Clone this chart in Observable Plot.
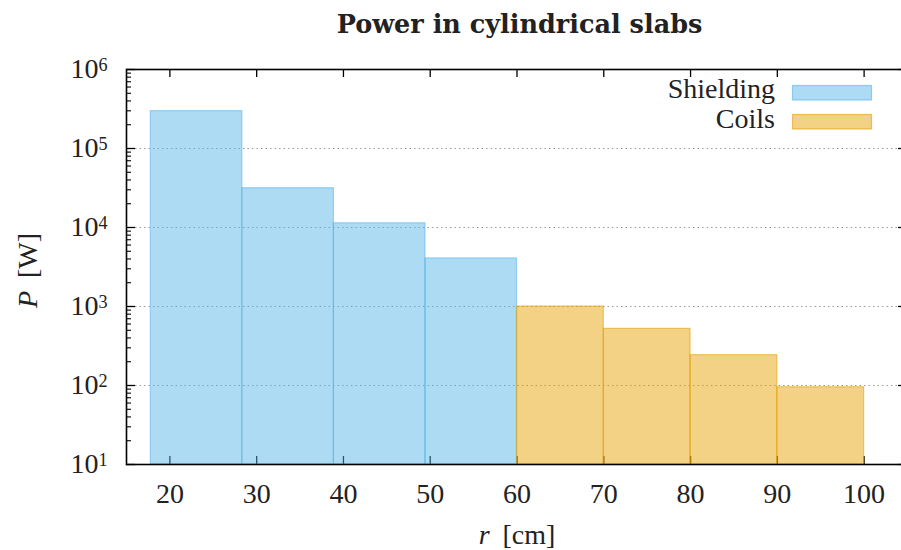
<!DOCTYPE html>
<html><head><meta charset="utf-8">
<script src="https://cdn.jsdelivr.net/npm/d3@7"></script>
<script src="https://cdn.jsdelivr.net/npm/@observablehq/plot@0.6"></script>
<style>
html,body{margin:0;padding:0;background:#fff;width:901px;height:550px;overflow:hidden;}
#wrap{position:relative;width:901px;height:550px;overflow:hidden;}
#wrap svg{display:block;max-width:none !important;}
</style></head><body><div id="wrap"></div>
<script>
const seriesNames = ["Shielding", "Coils"];
const seriesColors = ["#56b4e9", "#e69f00"];
const shieldingEdges = [17.8, 28.35, 38.9, 49.45, 60];
const shieldingPower = [2.97e5, 3.14e4, 1.13e4, 4.06e3];
const coilsEdges = [60, 70, 80, 90, 100];
const coilsPower = [1000, 521, 242, 95];
const xTicks = [20, 30, 40, 50, 60, 70, 80, 90, 100];
const yTicks = [1e1, 1e2, 1e3, 1e4, 1e5, 1e6];
const title = "Power in cylindrical slabs";
const xLabel = "r [cm]";
const yLabel = "P [W]";

const rows = [];
[[shieldingEdges, shieldingPower], [coilsEdges, coilsPower]].forEach(([e, p], s) =>
  p.forEach((v, i) => rows.push({series: seriesNames[s], x1: e[i], x2: e[i + 1], p: v})));
const minorTicks = [];
for (let k = 1; k < 6; k++) for (let m = 2; m <= 9; m++) minorTicks.push(m * 10 ** k);

const W = 910, H = 550, mL = 126, mR = 3, mT = 69, mB = 86;
const fw = W - mL - mR, fh = H - mT - mB;
const font = "'Liberation Serif', serif";
const ink = "#222";

const chart = Plot.plot({
  width: W, height: H, marginLeft: mL, marginRight: mR, marginTop: mT, marginBottom: mB,
  style: {fontFamily: font, fontSize: "28px", background: "white", color: ink, maxWidth: "none"},
  x: {domain: [15, 105], ticks: xTicks, tickSize: 0, tickPadding: 19, tickFormat: d => String(d), label: null},
  y: {type: "log", domain: [10, 1e6], ticks: yTicks, tickSize: 0, tickPadding: 19,
      tickFormat: d => "10^" + Math.round(Math.log10(d)), label: null},
  color: {domain: seriesNames, range: seriesColors},
  marks: [
    Plot.ruleY(yTicks.slice(1, -1), {stroke: "#9a9a9a", strokeDasharray: "1.5,3", strokeWidth: 1}),
    Plot.ruleX(xTicks, {insetTop: fh - 8, stroke: "#000", strokeWidth: 1.3}),
    Plot.rectY(rows, {x1: "x1", x2: "x2", y1: 10, y2: "p", fill: "series", fillOpacity: 0.48,
                      stroke: "series", strokeOpacity: 0.55, strokeWidth: 1.2}),
    Plot.ruleX(xTicks, {insetBottom: fh - 8, stroke: "#000", strokeWidth: 1.3}),
    Plot.ruleY(yTicks, {insetRight: fw - 9, stroke: "#000", strokeWidth: 1.3}),
    Plot.ruleY(minorTicks, {insetRight: fw - 5, stroke: "#000", strokeWidth: 1.1}),
    Plot.ruleY(yTicks, {insetLeft: fw - 9, stroke: "#000", strokeWidth: 1.3}),
    Plot.ruleY(minorTicks, {insetLeft: fw - 5, stroke: "#000", strokeWidth: 1.1}),
    Plot.frame({stroke: "#000", strokeWidth: 1.6}),
    Plot.text([title], {frameAnchor: "top", textAnchor: "middle", lineAnchor: "bottom", dy: -37, dx: 2.5,
                        fontWeight: "bold", fontSize: 25.5, fontFamily: "'DejaVu Serif', serif", fill: ink}),
    Plot.text([yLabel], {frameAnchor: "left", rotate: -90, textAnchor: "middle", lineAnchor: "bottom",
                         dx: -90, dy: 3.5, fontSize: 28, fill: ink}),
    Plot.text([xLabel], {frameAnchor: "bottom", textAnchor: "middle", lineAnchor: "bottom", dy: 79,
                         fontSize: 28, fill: ink})
  ]
});

const svg = d3.select(chart);
svg.selectAll("text").each(function () {
  const t = this.textContent;
  const s = d3.select(this);
  const m = /^10\^(\d+)$/.exec(t);
  if (m) {
    s.text("10");
    s.append("tspan").attr("dy", "-0.42em").attr("font-size", "0.65em").text(m[1]);
  } else if (t === yLabel || t === xLabel) {
    const first = t[0], rest = t.slice(1);
    s.text(null);
    s.append("tspan").attr("font-style", "italic").text(first);
    s.append("tspan").attr("dx", 6).text(rest);
  }
});

document.getElementById("wrap").appendChild(chart);

// legend overlay
const leg = d3.select("#wrap").append("svg")
  .attr("width", 901).attr("height", 550)
  .style("position", "absolute").style("left", 0).style("top", 0).style("pointer-events", "none");
seriesNames.forEach((name, i) => {
  leg.append("text").attr("x", 775).attr("y", 98 + i * 29.5).attr("text-anchor", "end")
    .attr("font-family", font).attr("font-size", 28).attr("fill", ink).text(name);
  leg.append("rect").attr("x", 792.5).attr("y", 85.5 + i * 29).attr("width", 79).attr("height", 14.5)
    .attr("fill", seriesColors[i]).attr("fill-opacity", 0.48)
    .attr("stroke", seriesColors[i]).attr("stroke-opacity", 0.6).attr("stroke-width", 1.2);
});
</script>
</body></html>
